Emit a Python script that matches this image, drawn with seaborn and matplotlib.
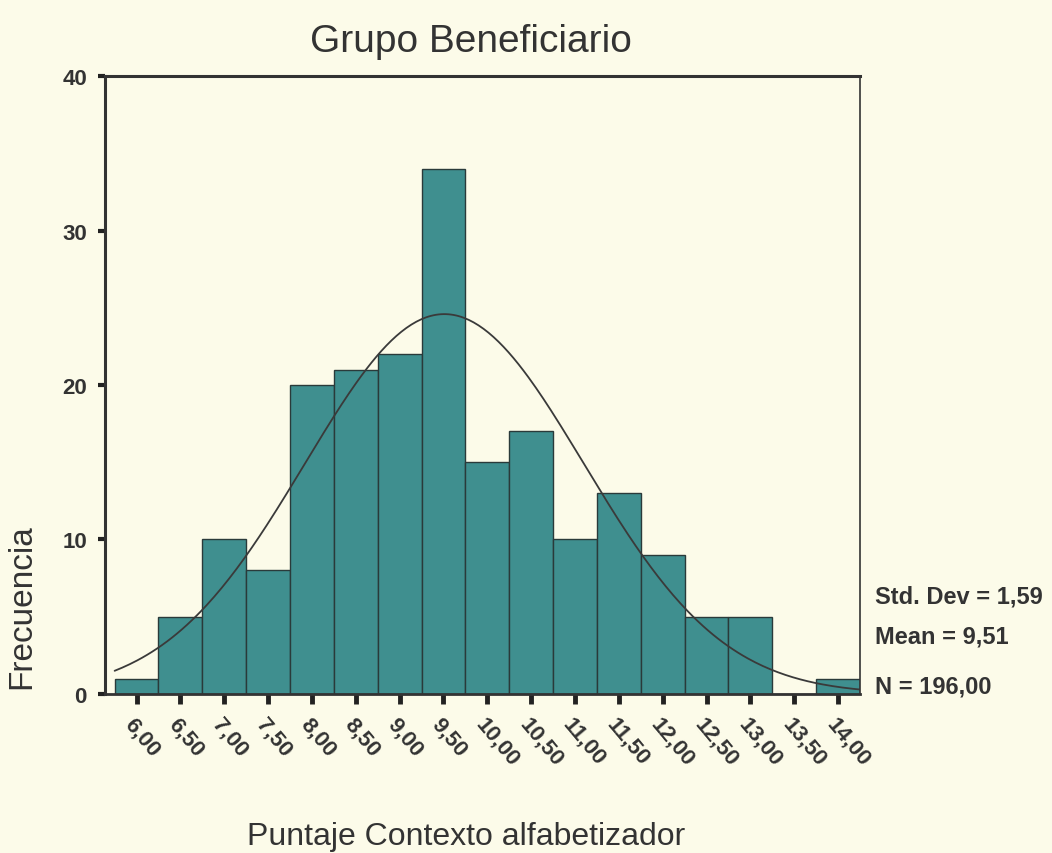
import numpy as np
import pandas as pd
import seaborn as sns
import matplotlib
matplotlib.use("Agg")
import matplotlib.pyplot as plt

# bin centres (Puntaje) and frequencies
centers = [6.0, 6.5, 7.0, 7.5, 8.0, 8.5, 9.0, 9.5, 10.0, 10.5,
           11.0, 11.5, 12.0, 12.5, 13.0, 13.5, 14.0]
counts = [1, 5, 10, 8, 20, 21, 22, 34, 15, 17, 10, 13, 9, 5, 5, 0, 1]
tick_labels = ["6,00", "6,50", "7,00", "7,50", "8,00", "8,50", "9,00", "9,50",
               "10,00", "10,50", "11,00", "11,50", "12,00", "12,50", "13,00",
               "13,50", "14,00"]
std_dev = 1.59
mean = 9.51
n = 196
bin_w = 0.5

bg = "#fcfbe9"
bar_col = "#3f8f8f"
txt = "#333333"

sns.set_style("ticks")
plt.rcParams["font.family"] = ["Liberation Sans", "DejaVu Sans"]

df = pd.DataFrame({"Puntaje": centers, "Frecuencia": counts})
edges = [c - bin_w / 2 for c in centers] + [centers[-1] + bin_w / 2]

fig = plt.figure(figsize=(10.52, 8.54), dpi=100, facecolor=bg)
ax = fig.add_axes([0.0998, 0.1862, 0.7177, 0.7236], facecolor=bg)

sns.histplot(data=df, x="Puntaje", weights="Frecuencia", bins=edges,
             color=bar_col, alpha=1, edgecolor="#2a3a3a", linewidth=1.0, ax=ax)

# normal curve from the reported mean / std dev
xs = np.linspace(edges[0], edges[-1], 300)
ys = n * bin_w / (std_dev * np.sqrt(2 * np.pi)) * np.exp(-0.5 * ((xs - mean) / std_dev) ** 2)
sns.lineplot(x=xs, y=ys, color="#3a3a3a", linewidth=1.3, ax=ax)

ax.set_xlim(5.64, 14.25)
ax.set_ylim(0, 40)
ax.set_yticks([0, 10, 20, 30, 40])
ax.set_yticklabels(["0", "10", "20", "30", "40"], fontsize=16, fontweight="bold", color=txt)
ax.set_xticks(centers)
ax.set_xticklabels(tick_labels, rotation=-50, ha="left", va="top",
                   rotation_mode="anchor", fontsize=16, fontweight="bold", color=txt)
ax.tick_params(axis="y", length=5, width=3, color="#222222", direction="out", pad=8)
ax.tick_params(axis="x", length=7, width=3.5, color="#222222", direction="out", pad=7)

for side, lw in [("top", 2.2), ("left", 2.2), ("bottom", 2.0), ("right", 1.2)]:
    ax.spines[side].set_visible(True)
    ax.spines[side].set_linewidth(lw)
    ax.spines[side].set_color("#333333")

ax.set_xlabel("Puntaje Contexto alfabetizador", fontsize=23, color=txt)
ax.xaxis.set_label_coords(0.478, -0.205)
ax.set_ylabel("Frecuencia", fontsize=24, color=txt)
ax.yaxis.set_label_coords(-0.09, 0.143)
ax.set_title("Grupo Beneficiario", fontsize=28, color=txt, pad=18, x=0.485)

stats = ["Std. Dev = " + f"{std_dev:.2f}".replace(".", ","),
         "Mean = " + f"{mean:.2f}".replace(".", ","),
         "N = " + f"{n:.2f}".replace(".", ",")]
for s, yy in zip(stats, [0.159, 0.094, 0.013]):
    ax.text(1.02, yy, s, transform=ax.transAxes, fontsize=17,
            fontweight="bold", color=txt, va="center", ha="left")

fig.savefig("out.png", dpi=100, facecolor=bg)
